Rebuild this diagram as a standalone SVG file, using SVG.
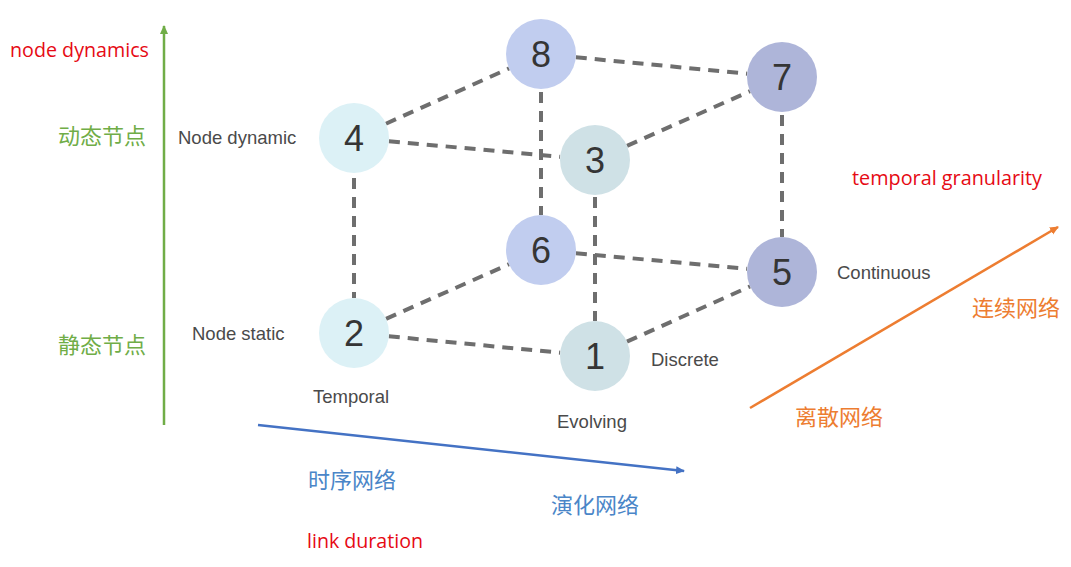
<svg xmlns="http://www.w3.org/2000/svg" width="1071" height="567" viewBox="0 0 1071 567">
<style>
.lbl{font-family:"Liberation Sans",Arial,sans-serif;font-size:18.5px;fill:#4a4a4a}
.num{font-family:"Liberation Sans",Arial,sans-serif;font-size:36px;fill:#353535;text-anchor:middle}
.red{font-family:"Open Sans","Liberation Sans",sans-serif;font-size:20px;fill:#e60a14}
.cjk{font-family:"Noto Sans CJK SC","Noto Sans",sans-serif;font-size:22px}
.edge{stroke:#6e6e6e;stroke-width:4;stroke-dasharray:11 8;fill:none}
</style>
<defs>
<marker id="ahG" markerUnits="userSpaceOnUse" markerWidth="10" markerHeight="10" refX="8" refY="5" orient="auto"><path d="M0,1 L9,5 L0,9 Z" fill="#70ad47"/></marker>
<marker id="ahB" markerUnits="userSpaceOnUse" markerWidth="10" markerHeight="10" refX="8" refY="5" orient="auto"><path d="M0,1 L9,5 L0,9 Z" fill="#4472c4"/></marker>
<marker id="ahO" markerUnits="userSpaceOnUse" markerWidth="10" markerHeight="10" refX="8" refY="5" orient="auto"><path d="M0,1 L9,5 L0,9 Z" fill="#ed7d31"/></marker>
</defs>
<rect width="1071" height="567" fill="#ffffff"/>

<g id="axes">
<line x1="164" y1="425" x2="164" y2="26" stroke="#70ad47" stroke-width="2.5" marker-end="url(#ahG)"/>
<line x1="258" y1="425" x2="684" y2="471" stroke="#4472c4" stroke-width="2.5" marker-end="url(#ahB)"/>
<line x1="750" y1="408" x2="1058" y2="227" stroke="#ed7d31" stroke-width="2.5" marker-end="url(#ahO)"/>
</g>

<g id="connectors">
<line class="edge" x1="385.9" y1="123.7" x2="509.1" y2="68.4"/>
<line class="edge" x1="575.8" y1="57.3" x2="747.2" y2="73.7"/>
<line class="edge" x1="388.9" y1="141.2" x2="560.1" y2="156.8"/>
<line class="edge" x1="627" y1="145.8" x2="750" y2="91.2"/>
<line class="edge" x1="354" y1="178" x2="354" y2="298"/>
<line class="edge" x1="541" y1="92" x2="541" y2="215"/>
<line class="edge" x1="595" y1="197" x2="595" y2="321"/>
<line class="edge" x1="782" y1="115" x2="782" y2="237"/>
<line class="edge" x1="386" y1="318.8" x2="509" y2="264.2"/>
<line class="edge" x1="575.9" y1="253.2" x2="747.1" y2="268.8"/>
<line class="edge" x1="388.8" y1="336.3" x2="560.2" y2="352.7"/>
<line class="edge" x1="626.9" y1="341.6" x2="750.1" y2="286.4"/>
</g>

<g id="node8"><circle cx="541" cy="54" r="35" fill="#c1cdef"/><text class="num" x="541" y="67">8</text></g>
<g id="node7"><circle cx="782" cy="77" r="35" fill="#aeb5d9"/><text class="num" x="782" y="90">7</text></g>
<g id="node4"><circle cx="354" cy="138" r="35" fill="#dcf1f6"/><text class="num" x="354" y="151">4</text></g>
<g id="node3"><circle cx="595" cy="160" r="35" fill="#cfe1e6"/><text class="num" x="595" y="173">3</text></g>
<g id="node6"><circle cx="541" cy="250" r="35" fill="#c1cdef"/><text class="num" x="541" y="263">6</text></g>
<g id="node5"><circle cx="782" cy="272" r="35" fill="#aeb5d9"/><text class="num" x="782" y="285">5</text></g>
<g id="node2"><circle cx="354" cy="333" r="35" fill="#dcf1f6"/><text class="num" x="354" y="346">2</text></g>
<g id="node1"><circle cx="595" cy="356" r="35" fill="#cfe1e6"/><text class="num" x="595" y="369">1</text></g>

<g id="labels">
<text class="red" x="10" y="57" textLength="139" lengthAdjust="spacingAndGlyphs">node dynamics</text>
<text class="red" x="852" y="185" textLength="190" lengthAdjust="spacingAndGlyphs">temporal granularity</text>
<text class="red" x="307" y="548" textLength="116" lengthAdjust="spacingAndGlyphs">link duration</text>
<text class="cjk" x="58" y="144" fill="#70ad47">动态节点</text>
<text class="cjk" x="58" y="353" fill="#70ad47">静态节点</text>
<text class="cjk" x="972" y="316" fill="#ed7d31">连续网络</text>
<text class="cjk" x="795" y="425" fill="#ed7d31">离散网络</text>
<text class="cjk" x="308" y="488" fill="#4a86c8">时序网络</text>
<text class="cjk" x="551" y="513" fill="#4a86c8">演化网络</text>
<text class="lbl" x="178" y="144">Node dynamic</text>
<text class="lbl" x="192" y="340">Node static</text>
<text class="lbl" x="313" y="403">Temporal</text>
<text class="lbl" x="557" y="428">Evolving</text>
<text class="lbl" x="651" y="366">Discrete</text>
<text class="lbl" x="837" y="279">Continuous</text>
</g>
</svg>
